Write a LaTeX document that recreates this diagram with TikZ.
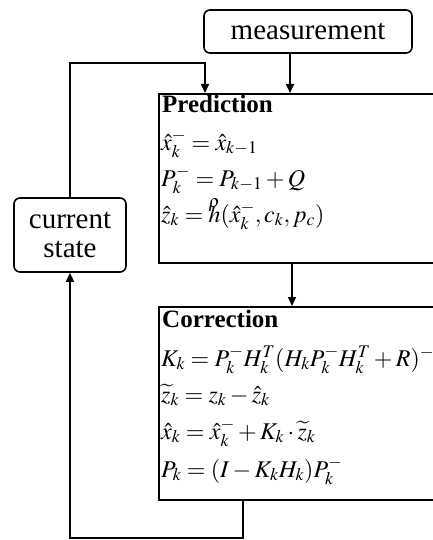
\documentclass[tikz,border=0pt]{standalone}
\usepackage{amsmath}
\usepackage{mathptmx}
\usepackage{fontspec}
\setmainfont{Liberation Serif}
\newfontfamily\tnr{Liberation Serif}
\usetikzlibrary{arrows.meta}
\tikzset{
  rbox/.style={draw, rounded corners=6pt, line width=1.6pt, inner sep=0pt, align=center,
    font=\tnr\fontsize{29}{30}\selectfont},
  sbox/.style={draw, line width=1.6pt, inner sep=0pt, anchor=north west},
  ttl/.style={anchor=base west, inner sep=0pt, font=\tnr\fontsize{25}{28}\selectfont\bfseries},
  eqn/.style={anchor=base west, inner sep=0pt, font=\fontsize{24}{26}\selectfont},
  arr/.style={-{Triangle[length=9pt,width=8pt]}, line width=1.6pt}
}
\newcommand{\rhoh}{\makebox[0pt][l]{\raisebox{0.6em}{$\scriptstyle\rho$}}h}
\begin{document}
\begin{tikzpicture}[x=1pt,y=-1pt]
\useasboundingbox (0,0) rectangle (433,540);
\clip (0,0) rectangle (433,540);
% boxes
\node[rbox, minimum width=208pt, minimum height=43pt] (meas) at (308,31.5) {measurement};
\node[sbox, minimum width=282pt, minimum height=169pt] (pred) at (158,93) {};
\node[sbox, minimum width=282pt, minimum height=193pt] (corr) at (158,306) {};
\node[rbox, minimum width=112pt, minimum height=74pt] (cur) at (70,235) {current\\[-1pt]state};
% prediction text
\node[ttl] (ptitle) at (162,113) {Prediction};
\node[eqn] (p1) at (161,150) {$\hat{x}_k^- = \hat{x}_{k-1}$};
\node[eqn] (p2) at (161,186) {$P_k^- = P_{k-1} + Q$};
\node[eqn] (p3) at (161,222) {$\hat{z}_k = \rhoh(\hat{x}_k^-, c_k, p_c)$};
% correction text
\node[ttl] (ctitle) at (162,327) {Correction};
\node[eqn] (c1) at (161,366) {$K_k = P_k^- H_k^T (H_k P_k^- H_k^T + R)^-$};
\node[eqn] (c2) at (161,402) {$\widetilde{z}_k = z_k - \hat{z}_k$};
\node[eqn] (c3) at (161,439) {$\hat{x}_k = \hat{x}_k^- + K_k \cdot \widetilde{z}_k$};
\node[eqn] (c4) at (161,477) {$P_k = (I - K_k H_k) P_k^-$};
% helper coordinates
\coordinate (mx) at (290,0);
\coordinate (px) at (205,0);
\coordinate (dx) at (292,0);
\coordinate (tl) at (70,63);
\coordinate (br) at (243,538);
\coordinate (bl) at (70,538);
% connectors
\draw[arr] (meas.south -| mx) -- (pred.north -| mx);
\draw[arr] (cur.north) -- (tl) -- (tl -| px) -- (pred.north -| px);
\draw[arr] (pred.south -| dx) -- (corr.north -| dx);
\draw[arr] (corr.south -| br) -- (br) -- (bl) -- (cur.south);
\end{tikzpicture}
\end{document}
